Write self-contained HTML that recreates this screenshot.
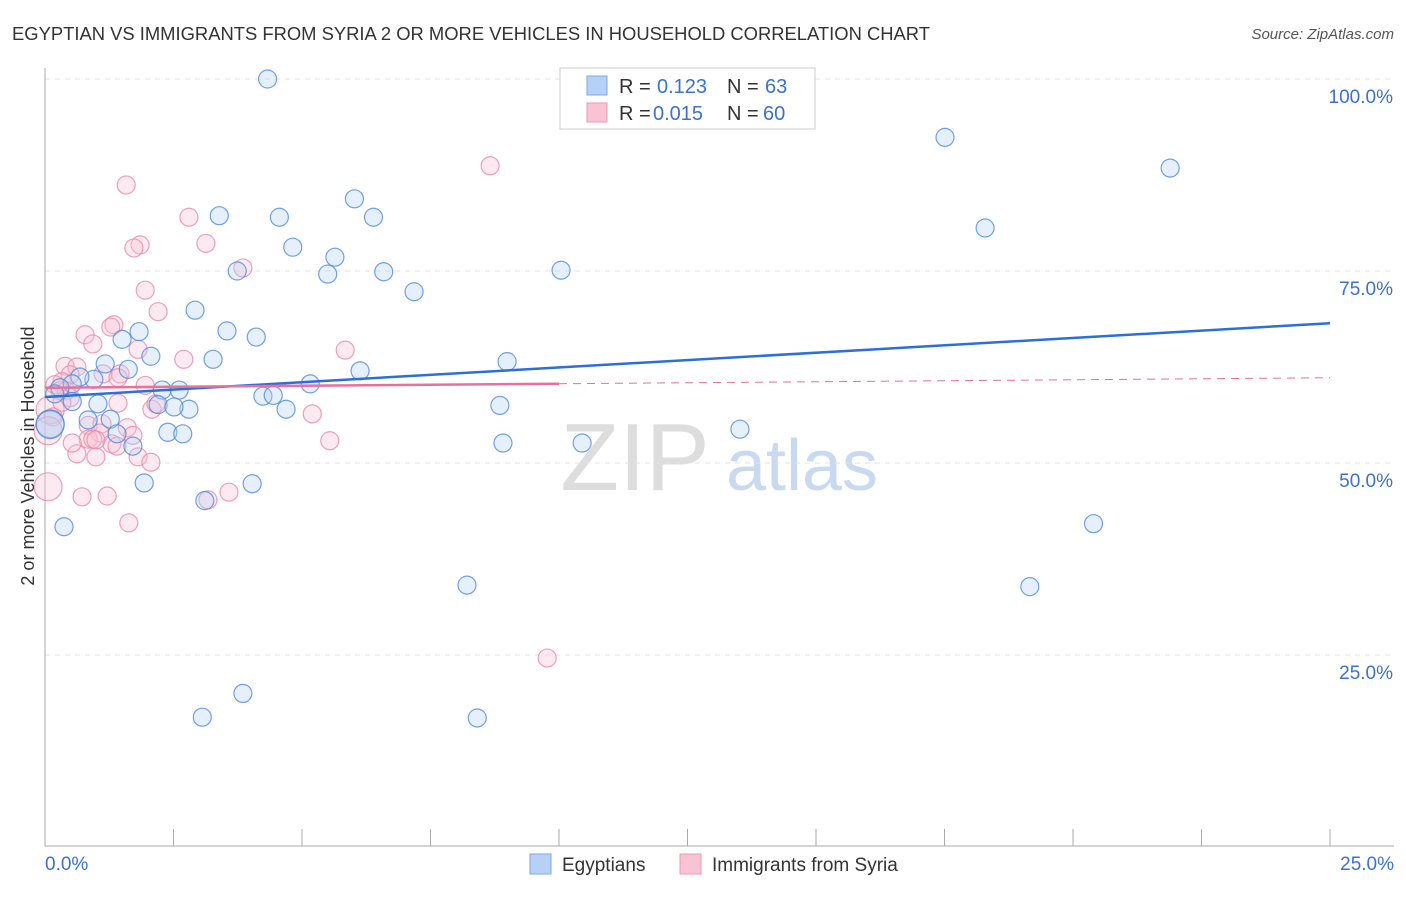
<!DOCTYPE html>
<html><head><meta charset="utf-8"><style>
body{margin:0;background:#fff;font-family:"Liberation Sans",sans-serif}
svg text{font-family:"Liberation Sans",sans-serif}
</style></head><body>
<svg width="1406" height="892" id="chart">
<text x="12" y="40" font-size="18.4" fill="#333">EGYPTIAN VS IMMIGRANTS FROM SYRIA 2 OR MORE VEHICLES IN HOUSEHOLD CORRELATION CHART</text>
<text x="1394" y="39" font-size="15" fill="#555" font-style="italic" text-anchor="end">Source: ZipAtlas.com</text>
<g><text x="635" y="490" font-size="96" font-family="Liberation Serif" fill="#ddd" text-anchor="middle">ZIP</text><text x="802" y="490" font-size="72" fill="#c9daf0" text-anchor="middle">atlas</text></g>
<g id="grid"></g><g id="axes"></g><g id="marks"></g>
<text transform="translate(34,456) rotate(-90)" font-size="18" fill="#333" text-anchor="middle">2 or more Vehicles in Household</text>
<g>
<rect x="560" y="68" width="255" height="61" fill="#fff" stroke="#ccc"/>
<rect x="587" y="76" width="20" height="19" fill="#b7d0f5" stroke="#7ea7e6"/>
<rect x="587" y="103" width="20" height="19" fill="#f9c3d3" stroke="#ef98b3"/>
<text x="619" y="93" font-size="20" fill="#333">R =</text><text x="657" y="93" font-size="20" fill="#3b72cc">0.123</text>
<text x="727" y="93" font-size="20" fill="#333">N =</text><text x="765" y="93" font-size="20" fill="#3b72cc">63</text>
<text x="619" y="120" font-size="20" fill="#333">R =</text><text x="653" y="120" font-size="20" fill="#3b72cc">0.015</text>
<text x="727" y="120" font-size="20" fill="#333">N =</text><text x="763" y="120" font-size="20" fill="#3b72cc">60</text>
</g>
<g>
<rect x="530" y="854" width="21" height="20" fill="#b7d0f5" stroke="#7ea7e6"/>
<text x="562" y="871" font-size="19" fill="#333">Egyptians</text>
<rect x="680" y="854" width="21" height="20" fill="#f9c3d3" stroke="#ef98b3"/>
<text x="712" y="871" font-size="19" fill="#333">Immigrants from Syria</text>
</g>
</svg>
<script>
const blueX=[4.33,17.51,21.89,3.39,4.56,6.02,6.39,18.29,4.82,5.64,3.74,5.5,6.59,10.04,7.18,2.92,1.83,3.54,4.11,1.5,2.06,3.27,1.17,1.62,8.99,6.13,0.95,0.68,0.53,5.16,2.28,2.61,0.29,0.19,0.53,1.03,2.2,2.8,2.51,4.24,4.44,4.69,8.85,0.84,1.27,0.1,2.39,2.68,1.4,13.52,10.45,8.91,1.71,1.93,4.03,3.11,0.37,8.21,19.16,20.4,3.85,3.06,8.41,0.1];
const blueY=[100,92.4,88.4,82.2,82,84.4,82,80.6,78.1,76.8,75,74.6,74.9,75.1,72.3,69.9,67.1,67.2,66.4,66.1,63.9,63.5,62.9,62.2,63.2,62,60.9,61.2,60.3,60.3,59.5,59.5,59.8,59,58,57.7,57.6,57,57.3,58.7,58.8,57,57.5,55.6,55.7,55.1,54,53.8,53.8,54.4,52.6,52.6,52.2,47.4,47.3,45.1,41.7,34.1,33.9,42.1,20,16.9,16.8,55];
const pinkX=[8.66,1.58,2.8,1.85,1.73,3.13,3.85,1.95,2.2,1.34,1.28,0.78,0.93,1.81,5.84,2.7,0.39,0.62,1.46,1.13,0.49,0.33,0.19,1.95,1.42,0.41,0.49,0.29,1.42,2.08,5.2,2.16,0.1,0.84,1.11,1.6,1.07,1.71,0.84,0.93,1.3,1.4,5.54,0.62,0.99,1.81,2.06,3.58,0.72,1.21,3.17,1.63,9.77,0.06,0.16,0.06,0.99,0.53,0.33];
const pinkY=[88.7,86.2,82,78.4,78,78.6,75.4,72.5,69.7,68,67.7,66.7,65.5,64.8,64.7,63.5,62.6,62.5,61.6,61.6,61.5,60.6,60.2,60.1,61.1,59.4,58.5,59.4,57.8,57,56.4,57.7,56.9,54.9,55.1,54.6,53.9,53.6,53.1,53.1,52.5,52.2,52.9,51.2,50.8,50.8,50.1,46.2,45.6,45.7,45.2,42.2,24.6,46.9,56,54.2,53,52.6,57.9];
const blueTrend=[58.6,68.2];
const pinkTrend=[59.8,61.1];
const yTicks=[100,75,50,25];
const yTickLabels=["100.0%","75.0%","50.0%","25.0%"];
const xTickLabels=["0.0%","25.0%"];
const X=v=>45+v/25*1285, Y=v=>847-v/100*768;
const NS="http://www.w3.org/2000/svg";
function mk(p,t,a){const e=document.createElementNS(NS,t);for(const k in a)e.setAttribute(k,a[k]);document.getElementById(p).appendChild(e);return e;}
yTicks.forEach((t,i)=>{
 const l=mk('grid','line',{x1:45,x2:1394,y1:Y(t),y2:Y(t),stroke:'#e2e2e2','stroke-dasharray':'5,5'});
 
 
 const tx=mk('axes','text',{x:1393,y:Y(t)+24,'font-size':19,fill:'#3b72cc','text-anchor':'end'});tx.textContent=yTickLabels[i];
 
 
});
mk('axes','line',{x1:45,x2:45,y1:68,y2:846,stroke:'#aaa'});
mk('axes','line',{x1:45,x2:1394,y1:846,y2:846,stroke:'#aaa'});
for(let i=0;i<=10;i++){const t=mk('axes','line',{x1:X(i*2.5),x2:X(i*2.5),y1:829,y2:846,stroke:'#aaa'});
 
 }
[[0,'start',45],[25,'end',1394]].forEach((d,i)=>{const t=mk('axes','text',{x:d[2],y:870,'font-size':19,fill:'#3b72cc','text-anchor':d[1]});t.textContent=xTickLabels[i];
 
 });
function pts(xs,ys,fill,stroke,name){xs.forEach((x,i)=>{const c=mk('marks','circle',{cx:X(x),cy:Y(ys[i]),r:(x<0.12?14:9),fill:fill,'fill-opacity':0.35,stroke:stroke,'stroke-opacity':0.8,'stroke-width':1.2});
 
 });}
pts(pinkX,pinkY,'#f9c3d3','#ea8aa8','syria-point');
pts(blueX,blueY,'#b7d0f5','#4f8ae0','egyptian-point');
let l=mk('marks','line',{x1:X(0),y1:Y(blueTrend[0]),x2:X(25),y2:Y(blueTrend[1]),stroke:'#2c6fd6','stroke-width':2.5});


const pm=pinkTrend[0]+(pinkTrend[1]-pinkTrend[0])*0.4;
l=mk('marks','line',{x1:X(0),y1:Y(pinkTrend[0]),x2:X(10),y2:Y(pm),stroke:'#e8709a','stroke-width':2.5});


l=mk('marks','line',{x1:X(10),y1:Y(pm),x2:X(25),y2:Y(pinkTrend[1]),stroke:'#e8709a','stroke-width':1,'stroke-dasharray':'8,6'});


</script>
</body></html>
